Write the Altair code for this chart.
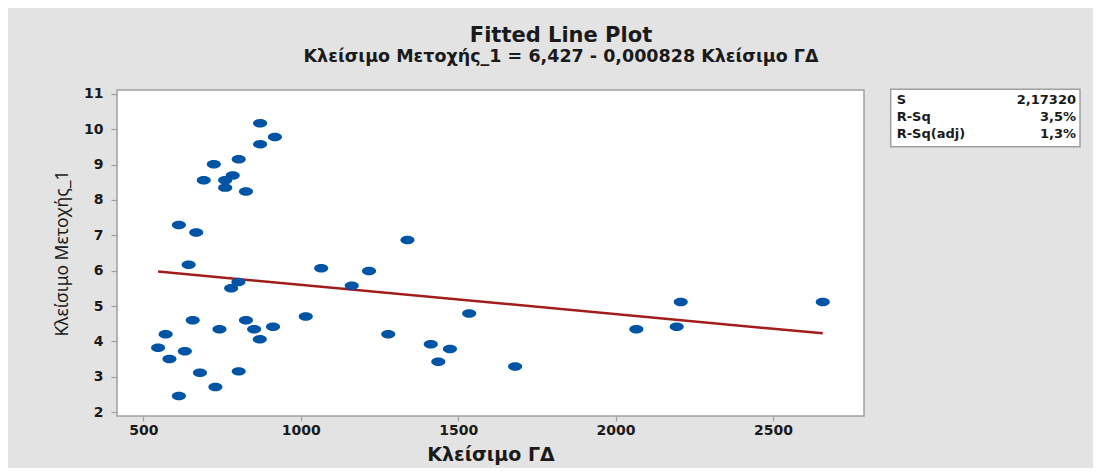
import altair as alt
import pandas as pd

# ---- data ----
x_close_gd = [871, 918, 871, 803, 724, 692, 760, 784, 760, 826,
              613, 668, 644, 802, 779, 1065, 1162, 1016, 657, 826,
              742, 852, 912, 870, 571, 547, 632, 583, 680, 803,
              729, 613, 1217, 1339, 1535, 1278, 1413, 1474, 1437, 1681,
              2207, 2658, 2066, 2194]
y_close_stock = [10.17, 9.78, 9.58, 9.15, 9.01, 8.56, 8.56, 8.69, 8.35, 8.24,
                 7.29, 7.08, 6.17, 5.68, 5.50, 6.07, 5.57, 4.70, 4.60, 4.60,
                 4.34, 4.34, 4.41, 4.06, 4.20, 3.82, 3.72, 3.50, 3.11, 3.15,
                 2.71, 2.45, 5.99, 6.87, 4.79, 4.20, 3.92, 3.78, 3.42, 3.29,
                 5.11, 5.11, 4.34, 4.41]
fit_intercept = 6.427
fit_slope = -0.000828
stat_names = ["S", "R-Sq", "R-Sq(adj)"]
stat_values = ["2,17320", "3,5%", "1,3%"]
x_ticks = [500, 1000, 1500, 2000, 2500]
y_ticks = [2, 3, 4, 5, 6, 7, 8, 9, 10, 11]
title_text = "Fitted Line Plot"
subtitle_text = "Κλείσιμο Μετοχής_1 = 6,427 - 0,000828 Κλείσιμο ΓΔ"
x_title = "Κλείσιμο ΓΔ"
y_title = "Κλείσιμο Μετοχής_1"

# ---- layout / style ----
W, H = 747, 326
FONT = "DejaVu Sans"
TXT = "#1a1a1a"
GRAY = "#a0a0a0"
ELLIPSE = "M-1,0A1,0.6,0,1,0,1,0A1,0.6,0,1,0,-1,0Z"

pts = pd.DataFrame({"x": x_close_gd, "y": y_close_stock})
fit = pd.DataFrame({"x": [min(x_close_gd), max(x_close_gd)]})
fit["y"] = fit_intercept + fit_slope * fit["x"]

xscale = alt.Scale(domain=[416.5, 2789], nice=False, zero=False)
yscale = alt.Scale(domain=[1.887, 11.113], nice=False, zero=False)

xaxis = alt.Axis(title=x_title, values=x_ticks, format="d", grid=False,
                 domain=False, tickColor=GRAY, tickSize=5, tickWidth=1.2,
                 labelPadding=2, labelFont=FONT, labelFontSize=14,
                 labelFontWeight="bold", labelColor=TXT, titleFont=FONT,
                 titleFontSize=19, titleFontWeight="bold", titleColor=TXT,
                 titleX=W / 2, titleY=44, titleBaseline="alphabetic",
                 titleAlign="center")
yaxis = alt.Axis(title=y_title, values=y_ticks, format="d", grid=False,
                 domain=False, tickColor=GRAY, tickSize=6, tickWidth=1.2,
                 labelPadding=8, labelFont=FONT, labelFontSize=14,
                 labelFontWeight="bold", labelColor=TXT, labelOverlap=False,
                 titleFont="Noto Sans", titleFontSize=17.5,
                 titleFontWeight="normal", titleColor=TXT, titleAngle=270,
                 titleX=-50, titleY=H / 2, titleBaseline="alphabetic",
                 titleAlign="center")

points = alt.Chart(pts).mark_point(
    shape=ELLIPSE, size=200, filled=True, color="#0054a6", opacity=1
).encode(
    x=alt.X("x:Q", scale=xscale, axis=xaxis),
    y=alt.Y("y:Q", scale=yscale, axis=yaxis),
)

line = alt.Chart(fit).mark_line(color="#a31c1c", strokeWidth=2.5).encode(
    x=alt.X("x:Q", scale=xscale, axis=xaxis),
    y=alt.Y("y:Q", scale=yscale, axis=yaxis),
)


def text_layer(txt, x, y, size, weight="bold", align="center", font=FONT):
    return alt.Chart(pd.DataFrame({"t": [txt]})).mark_text(
        align=align, baseline="alphabetic", font=font, fontSize=size,
        fontWeight=weight, color=TXT
    ).encode(text="t:N", x=alt.value(x), y=alt.value(y))


box = alt.Chart(pd.DataFrame({"a": [0]})).mark_rect(
    fill="white", stroke=GRAY, strokeWidth=1.5
).encode(x=alt.value(773.7), x2=alt.value(963), y=alt.value(-0.7), y2=alt.value(56.7))

layers = [box, line, points,
          text_layer(title_text, 444, -48, 21),
          text_layer(subtitle_text, 444, -28, 17.5)]
for i, (n, v) in enumerate(zip(stat_names, stat_values)):
    yy = 14 + 17 * i
    layers.append(text_layer(n, 779.7, yy, 13, align="left"))
    layers.append(text_layer(v, 959, yy, 13, align="right"))

chart = alt.layer(*layers).properties(
    width=W, height=H,
    autosize=alt.AutoSizeParams(type="none"),
    padding={"left": 109, "top": 82, "right": 229, "bottom": 52},
    background="#e3e3e3",
).configure_view(fill="white", stroke=GRAY, strokeWidth=1.5)

chart.save("out.html", embed_options={"renderer": "svg", "actions": False})
